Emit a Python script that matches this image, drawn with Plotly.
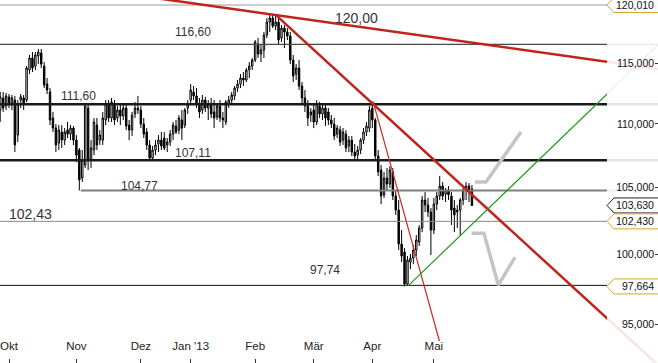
import math
import plotly.graph_objects as go

# ---------------- data ----------------
first_index = -3  # trading-day index of the first candle (Oct 1 2012 = 0)

open_ = [111.13, 112.11, 111.46, 112.20, 111.70, 111.94, 109.11, 111.94, 112.11, 111.94,
         114.43, 115.44, 114.76, 115.61, 115.87, 114.76, 113.26, 112.61, 110.48, 109.67,
         108.47, 109.35, 108.71, 109.51, 109.19, 109.67, 108.71, 107.92, 105.73, 106.74,
         111.29, 107.13, 107.92, 109.91, 108.71, 108.71, 110.32, 111.62, 110.48, 111.62,
         110.48, 111.13, 110.64, 111.29, 109.91, 109.51, 110.81, 111.29, 111.13, 109.99,
         109.35, 108.32, 107.29, 107.92, 108.40, 108.71, 108.87, 108.32, 108.55, 109.19,
         109.83, 109.51, 110.32, 109.91, 111.29, 111.94, 112.61, 112.28, 111.62, 111.13,
         111.94, 111.29, 111.62, 110.97, 110.56, 111.46, 110.48, 110.16, 111.62, 111.94,
         112.28, 112.93, 113.26, 113.76, 113.60, 114.43, 114.76, 115.27, 116.63, 115.78,
         116.12, 117.40, 118.52, 118.87, 118.17, 118.52, 117.14, 118.00, 117.66, 117.31,
         115.27, 114.09, 114.60, 113.10, 112.11, 111.46, 110.72, 111.13, 110.16, 111.46,
         110.81, 111.29, 110.97, 110.32, 109.99, 109.19, 109.51, 108.71, 109.19, 108.24,
         108.71, 107.76, 107.52, 107.92, 108.71, 109.35, 109.67, 111.29, 110.32, 107.45,
         106.35, 104.43, 105.73, 105.27, 106.20, 104.35, 103.28, 100.75, 100.16, 97.83,
         99.42, 99.71, 100.30, 100.89, 101.93, 104.04, 103.66, 103.13, 101.78, 103.73,
         104.35, 105.11, 104.50, 104.81, 104.35, 103.43, 103.13, 103.28, 104.04, 104.81,
         105.11, 104.89]
high = [112.61, 112.61, 112.52, 112.44, 112.36, 112.28, 111.94, 112.44, 112.36, 114.76,
        115.70, 115.95, 115.95, 116.21, 116.21, 115.10, 113.76, 112.93, 110.97, 109.99,
        109.91, 109.91, 109.67, 110.16, 109.91, 109.83, 109.11, 108.08, 107.92, 111.62,
        111.54, 108.71, 110.48, 110.48, 109.51, 110.97, 111.94, 111.94, 112.11, 111.94,
        111.46, 111.62, 111.70, 111.54, 110.32, 110.97, 111.78, 112.28, 111.46, 110.48,
        109.67, 108.71, 108.24, 108.71, 109.11, 109.35, 109.35, 108.87, 109.51, 110.16,
        110.32, 110.72, 111.13, 111.29, 111.94, 113.26, 113.10, 112.93, 112.11, 112.36,
        112.20, 111.94, 112.11, 111.94, 111.62, 111.94, 110.97, 111.94, 112.28, 112.61,
        113.10, 113.60, 114.09, 114.26, 114.60, 115.10, 115.44, 116.97, 117.14, 116.55,
        117.66, 118.87, 119.13, 119.13, 119.22, 118.87, 118.26, 118.26, 118.00, 117.66,
        115.70, 114.93, 115.27, 113.43, 112.77, 111.94, 111.29, 111.70, 111.94, 111.78,
        111.62, 111.54, 111.29, 110.72, 110.48, 109.91, 109.83, 109.67, 109.51, 109.03,
        109.03, 108.40, 108.24, 108.87, 109.67, 110.16, 111.46, 111.70, 110.48, 107.92,
        106.74, 106.20, 106.51, 106.66, 106.51, 104.81, 104.04, 101.78, 100.45, 99.86,
        100.01, 100.67, 101.41, 102.15, 104.35, 104.66, 104.20, 103.43, 104.20, 104.66,
        105.89, 105.42, 104.96, 105.11, 104.66, 104.04, 103.66, 104.20, 104.96, 105.42,
        105.34, 105.19]
low = [110.16, 110.97, 111.13, 111.29, 111.13, 107.76, 108.55, 111.29, 111.13, 111.78,
       114.09, 114.26, 114.43, 114.93, 114.60, 112.93, 112.44, 109.91, 109.35, 107.76,
       107.92, 108.08, 108.32, 108.87, 108.71, 108.32, 106.97, 104.77, 105.42, 106.51,
       106.35, 106.51, 107.52, 107.92, 108.32, 108.32, 109.91, 110.16, 110.16, 109.91,
       110.16, 109.91, 110.32, 109.51, 108.71, 109.03, 110.48, 110.81, 109.67, 108.87,
       107.92, 107.11, 107.13, 107.52, 107.76, 107.92, 107.92, 107.76, 108.24, 108.71,
       109.19, 109.19, 108.71, 109.67, 110.81, 111.62, 111.94, 111.29, 110.48, 110.81,
       110.97, 110.32, 110.48, 109.67, 110.32, 110.16, 109.67, 109.91, 111.29, 111.62,
       111.94, 112.61, 112.93, 113.10, 113.43, 113.76, 114.43, 115.10, 115.44, 115.10,
       115.44, 117.14, 117.66, 118.00, 117.83, 116.55, 116.80, 116.29, 116.97, 114.93,
       113.43, 113.60, 112.77, 111.62, 110.97, 109.83, 110.16, 109.67, 109.91, 110.48,
       110.32, 109.83, 109.91, 109.67, 108.71, 108.87, 108.24, 108.32, 107.76, 107.76,
       107.45, 107.13, 107.10, 107.60, 108.40, 109.03, 109.35, 109.67, 107.13, 105.89,
       103.73, 104.20, 104.81, 104.96, 104.04, 102.91, 100.30, 99.42, 97.664, 97.74,
       98.91, 99.27, 99.86, 100.60, 101.63, 103.13, 102.76, 99.93, 101.48, 103.28,
       104.04, 104.04, 103.89, 104.04, 102.15, 101.63, 101.93, 101.33, 103.66, 104.04,
       103.89, 103.59]
close = [112.20, 111.29, 112.28, 111.62, 112.11, 108.32, 111.62, 112.20, 111.62, 114.60,
         115.44, 114.60, 115.70, 115.95, 114.93, 113.18, 112.77, 110.32, 109.67, 108.32,
         109.51, 108.71, 109.35, 109.19, 109.67, 108.71, 107.52, 105.58, 107.13, 111.46,
         107.13, 108.08, 110.16, 108.32, 109.11, 110.48, 111.62, 110.48, 111.78, 110.32,
         111.13, 110.64, 111.29, 109.83, 109.51, 110.72, 111.29, 111.13, 109.99, 109.19,
         108.32, 107.29, 107.92, 108.32, 108.71, 108.24, 108.08, 108.55, 109.19, 109.91,
         109.35, 110.48, 109.67, 111.13, 111.62, 112.77, 112.28, 111.62, 110.97, 111.94,
         111.29, 111.62, 110.81, 110.48, 111.46, 110.48, 110.32, 111.78, 111.94, 112.36,
         112.93, 113.26, 113.76, 113.60, 114.43, 114.76, 115.27, 116.80, 115.78, 116.12,
         117.40, 118.52, 118.87, 118.17, 118.52, 116.97, 118.00, 117.66, 117.31, 115.27,
         113.93, 114.60, 113.10, 112.11, 111.46, 110.48, 110.97, 110.16, 111.62, 110.81,
         111.29, 110.48, 110.32, 109.99, 109.03, 109.67, 108.55, 109.35, 108.08, 108.71,
         107.76, 107.45, 107.92, 108.71, 109.35, 109.83, 111.13, 110.32, 107.45, 106.20,
         104.35, 105.73, 105.27, 106.35, 104.35, 103.28, 100.75, 99.86, 97.83, 99.57,
         99.71, 100.30, 101.04, 101.93, 104.04, 103.66, 103.13, 101.78, 103.73, 104.35,
         105.11, 104.35, 104.81, 104.43, 103.28, 102.91, 103.28, 104.04, 104.81, 105.11,
         104.66, 103.63]

month_labels = ["Okt", "Nov", "Dez", "Jan '13", "Feb", "Mär", "Apr", "Mai"]
month_index = [0, 23, 45, 62, 84, 104, 124, 145]

# horizontal support / resistance levels
level_values = [120.01, 116.60, 111.60, 107.11, 104.77, 102.43, 97.74]
level_start = [None, None, None, None, 24.5, None, None]
level_texts = ["120,00", "116,60", "111,60", "107,11", "104,77", "102,43", "97,74"]

# trend lines: two anchor points each (trading-day index, price)
trend_upper_x = [92.49, 201.02]
trend_upper_p = [119.08, 115.23]
trend_main_x = [91.47, 196.59]
trend_main_p = [119.04, 96.83]
trend_steep_x = [124.23, 146.9]
trend_steep_p = [111.86, 93.84]
trend_green_x = [136.2, 184.3]
trend_green_p = [97.70, 107.92]

# scenario sketches (grey)
scen_up_x = [159.0, 162.8, 174.7]
scen_up_p = [105.42, 105.42, 109.35]
scen_dn_x = [157.9, 162.1, 167.0, 172.7]
scen_dn_p = [101.54, 101.54, 97.76, 99.77]

# right-hand price tags
tag_values = [120.010, 103.630, 102.430, 97.664]

y_ticks = [95, 100, 105, 110, 115]

# ---------------- layout constants ----------------
W, H = 658, 363
X_RANGE = [-3.072, 221.5]
Y_LO, Y_HI = math.log10(92.34), math.log10(120.45)
CUT_PX = 607
x_cut = X_RANGE[0] + (X_RANGE[1] - X_RANGE[0]) * CUT_PX / W
FONT = "Liberation Sans, Arial, sans-serif"

idx = list(range(first_index, first_index + len(open_)))
assert len(open_) == len(high) == len(low) == len(close)


def extend(xs, ps, x0, x1):
    """points of the straight (log-price) line through two anchors, between x0 and x1"""
    la, lb = math.log(ps[0]), math.log(ps[1])
    k = (lb - la) / (xs[1] - xs[0])
    return [x0, x1], [math.exp(la + k * (x0 - xs[0])), math.exp(la + k * (x1 - xs[0]))]


def ypaper(v):
    return (math.log10(v) - Y_LO) / (Y_HI - Y_LO)


fig = go.Figure()

fig.add_trace(go.Candlestick(
    x=idx, open=open_, high=high, low=low, close=close,
    increasing=dict(line=dict(color="#000000", width=1), fillcolor="#ffffff"),
    decreasing=dict(line=dict(color="#000000", width=1), fillcolor="#000000"),
    whiskerwidth=0, hoverinfo="skip", showlegend=False,
))

level_styles = [
    dict(color="#9a9a9a", width=1),
    dict(color="#4a4a4a", width=1.2),
    dict(color="#1a1a1a", width=2.5),
    dict(color="#1a1a1a", width=2.5),
    dict(color="#7f7f7f", width=2),
    dict(color="#8a8a8a", width=1),
    dict(color="#111111", width=1),
]
for v, s, st in zip(level_values, level_start, level_styles):
    x0 = X_RANGE[0] - 5 if s is None else s
    fig.add_trace(go.Scatter(x=[x0, 235], y=[v, v], mode="lines", line=st,
                             hoverinfo="skip", showlegend=False))

red = "#c0231a"
for xs, ps, x0, x1, st in [
    (trend_upper_x, trend_upper_p, 40, 235, dict(color=red, width=2.5)),
    (trend_main_x, trend_main_p, trend_main_x[0], 235, dict(color=red, width=2.5)),
    (trend_steep_x, trend_steep_p, trend_steep_x[0], trend_steep_x[1], dict(color="#d0281c", width=1.2)),
    (trend_green_x, trend_green_p, trend_green_x[0], 235, dict(color="#1f9a1f", width=1.2)),
]:
    lx, ly = extend(xs, ps, x0, x1)
    fig.add_trace(go.Scatter(x=lx, y=ly, mode="lines", line=st,
                             hoverinfo="skip", showlegend=False))

for xs, ps in [(scen_up_x, scen_up_p), (scen_dn_x, scen_dn_p)]:
    fig.add_trace(go.Scatter(x=xs, y=ps, mode="lines",
                             line=dict(color="#c4c4c4", width=3.5),
                             hoverinfo="skip", showlegend=False))

# fade everything right of the price-scale gutter
fig.add_trace(go.Scatter(x=[x_cut, 240, 240, x_cut, x_cut], y=[85, 85, 130, 130, 85],
                         mode="lines", fill="toself", fillcolor="rgba(255,255,255,0.88)",
                         line=dict(width=0), hoverinfo="skip", showlegend=False))

# level captions
label_pos = [  # (x index, anchor, yshift, size)
    (118.7, "top", -3, 14),
    (62.8, "bottom", 3, 12),
    (23.7, "bottom", -1, 12),
    (62.8, "bottom", -2, 12),
    (44.7, "bottom", -4, 12),
    (7.5, "bottom", -3, 14),
    (107.8, "bottom", 6, 12),
]
annotations = []
for v, t, (lx, anc, ys, sz) in zip(level_values, level_texts, label_pos):
    annotations.append(dict(x=lx, y=math.log10(v), xref="x", yref="y", text=t,
                            showarrow=False, xanchor="center", yanchor=anc, yshift=ys,
                            font=dict(family=FONT, size=sz, color="#333333")))

shapes = []
tag_colors = ["#d9a42c", "#222222", "#d9a42c", "#d9a42c"]
half = 7.5 / H
for v, c in zip(tag_values, tag_colors):
    yc = ypaper(v)
    xt, xs_, xe = CUT_PX / W, (CUT_PX + 7) / W, 1.02
    shapes.append(dict(type="path", xref="paper", yref="paper",
                       path=f"M {xt},{yc} L {xs_},{yc + half} L {xe},{yc + half} "
                            f"L {xe},{yc - half} L {xs_},{yc - half} Z",
                       fillcolor="#ffffff", line=dict(color=c, width=1), layer="above"))
    annotations.append(dict(x=1, y=math.log10(v), xref="paper", yref="y",
                            text=f"{v:.3f}".replace(".", ","), showarrow=False,
                            xanchor="right", xshift=-2, yanchor="middle",
                            font=dict(family=FONT, size=10.5, color="#111111")))

fig.update_layout(
    width=W, height=H, margin=dict(l=0, r=0, t=0, b=0),
    paper_bgcolor="#ffffff", plot_bgcolor="#ffffff",
    separators=",.", showlegend=False, hovermode=False,
    shapes=shapes, annotations=annotations,
    font=dict(family=FONT, color="#222222"),
    xaxis=dict(range=X_RANGE, tickvals=month_index, ticktext=month_labels,
               ticks="inside", ticklen=4, tickcolor="#333333",
               ticklabelposition="inside", ticklabelstandoff=6,
               showgrid=False, zeroline=False,
               showline=False, rangeslider=dict(visible=False),
               tickfont=dict(family="Liberation Sans Narrow, Arial Narrow, " + FONT,
                             size=11.5, color="#222222")),
    yaxis=dict(type="log", range=[Y_LO, Y_HI], side="right", tickvals=y_ticks,
               tickformat=".3f", ticks="inside", ticklen=3, tickcolor="#333333",
               ticklabelposition="inside", showgrid=False, zeroline=False,
               showline=False, tickfont=dict(family=FONT, size=10.5, color="#111111")),
)

fig.write_html("out.html")
